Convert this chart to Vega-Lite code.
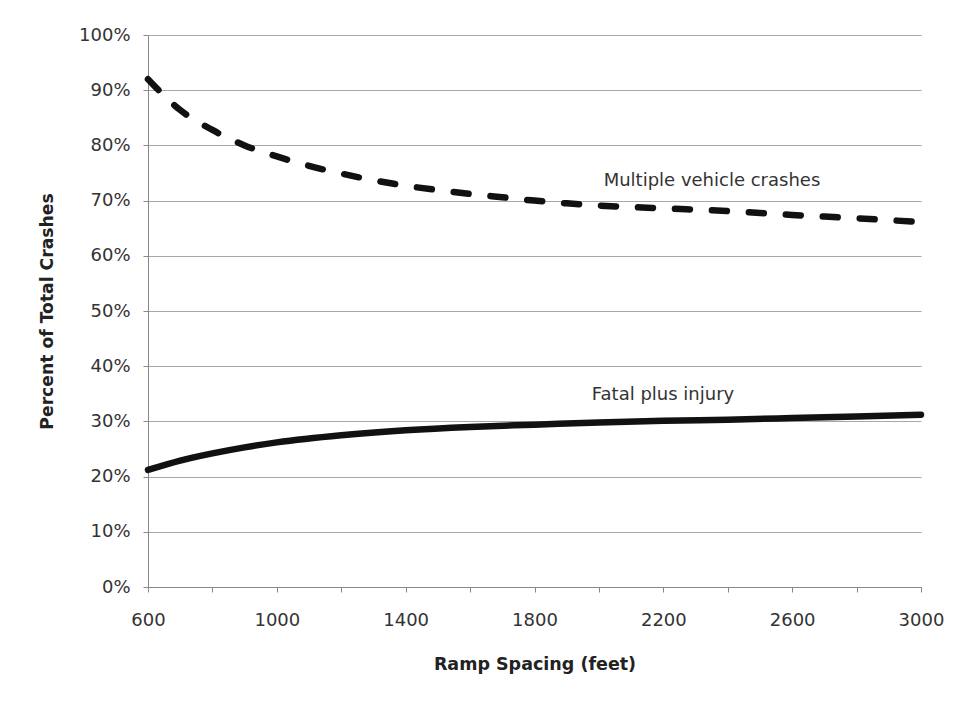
{
  "$schema": "https://vega.github.io/schema/vega-lite/v6.json",
  "width": 773,
  "height": 552,
  "autosize": {"type": "none"},
  "padding": {"left": 148, "top": 35, "right": 35, "bottom": 115},
  "background": "white",
  "config": {
    "view": {"stroke": null},
    "font": "DejaVu Sans"
  },
  "datasets": {
    "curves": [
      {"series": "Multiple vehicle crashes", "feet": 600, "pct": 92.0},
      {"series": "Multiple vehicle crashes", "feet": 700, "pct": 86.4},
      {"series": "Multiple vehicle crashes", "feet": 800, "pct": 82.8},
      {"series": "Multiple vehicle crashes", "feet": 900, "pct": 80.0},
      {"series": "Multiple vehicle crashes", "feet": 1000, "pct": 78.0},
      {"series": "Multiple vehicle crashes", "feet": 1100, "pct": 76.3},
      {"series": "Multiple vehicle crashes", "feet": 1200, "pct": 74.9},
      {"series": "Multiple vehicle crashes", "feet": 1300, "pct": 73.7},
      {"series": "Multiple vehicle crashes", "feet": 1400, "pct": 72.7},
      {"series": "Multiple vehicle crashes", "feet": 1500, "pct": 71.9},
      {"series": "Multiple vehicle crashes", "feet": 1600, "pct": 71.2},
      {"series": "Multiple vehicle crashes", "feet": 1700, "pct": 70.6},
      {"series": "Multiple vehicle crashes", "feet": 1800, "pct": 70.0},
      {"series": "Multiple vehicle crashes", "feet": 1900, "pct": 69.5},
      {"series": "Multiple vehicle crashes", "feet": 2000, "pct": 69.1},
      {"series": "Multiple vehicle crashes", "feet": 2200, "pct": 68.6},
      {"series": "Multiple vehicle crashes", "feet": 2400, "pct": 68.1},
      {"series": "Multiple vehicle crashes", "feet": 2600, "pct": 67.4},
      {"series": "Multiple vehicle crashes", "feet": 2800, "pct": 66.8},
      {"series": "Multiple vehicle crashes", "feet": 3000, "pct": 66.1},
      {"series": "Fatal plus injury", "feet": 600, "pct": 21.2},
      {"series": "Fatal plus injury", "feet": 700, "pct": 22.9},
      {"series": "Fatal plus injury", "feet": 800, "pct": 24.2},
      {"series": "Fatal plus injury", "feet": 900, "pct": 25.3},
      {"series": "Fatal plus injury", "feet": 1000, "pct": 26.2},
      {"series": "Fatal plus injury", "feet": 1200, "pct": 27.5},
      {"series": "Fatal plus injury", "feet": 1400, "pct": 28.4},
      {"series": "Fatal plus injury", "feet": 1600, "pct": 29.0},
      {"series": "Fatal plus injury", "feet": 1800, "pct": 29.4},
      {"series": "Fatal plus injury", "feet": 2000, "pct": 29.8},
      {"series": "Fatal plus injury", "feet": 2200, "pct": 30.1},
      {"series": "Fatal plus injury", "feet": 2400, "pct": 30.3},
      {"series": "Fatal plus injury", "feet": 2600, "pct": 30.6},
      {"series": "Fatal plus injury", "feet": 2800, "pct": 30.9},
      {"series": "Fatal plus injury", "feet": 3000, "pct": 31.2}
    ],
    "labels": [
      {"label": "Multiple vehicle crashes", "feet": 2351, "pct": 73.6},
      {"label": "Fatal plus injury", "feet": 2199, "pct": 34.8}
    ]
  },
  "layer": [
    {
      "data": {"name": "curves"},
      "transform": [{"filter": "datum.series == 'Multiple vehicle crashes'"}],
      "mark": {"type": "line", "color": "#111111", "strokeWidth": 6.5, "strokeDash": [15, 22], "strokeCap": "round", "interpolate": "monotone"},
      "encoding": {
        "x": {
          "field": "feet", "type": "quantitative",
          "scale": {"domain": [600, 3000], "nice": false, "zero": false},
          "axis": {
            "title": "Ramp Spacing (feet)",
            "values": [600,700,800,900,1000,1100,1200,1300,1400,1500,1600,1700,1800,1900,2000,2100,2200,2300,2400,2500,2600,2700,2800,2900,3000],
            "labelExpr": "(datum.value - 600) % 400 == 0 ? '' + datum.value : ''",
            "grid": false,
            "domainColor": "#888888",
            "tickColor": "#888888",
            "tickSize": 5,
            "labelFontSize": 18,
            "labelColor": "#333333",
            "labelPadding": 19,
            "labelFlush": false,
            "labelOverlap": false,
            "titleFontSize": 17.5,
            "titleFontWeight": "bold",
            "titleColor": "#222222",
            "titlePadding": 26
          }
        },
        "y": {
          "field": "pct", "type": "quantitative",
          "scale": {"domain": [0, 100], "nice": false},
          "axis": {
            "title": "Percent of Total Crashes",
            "values": [0,5,10,15,20,25,30,35,40,45,50,55,60,65,70,75,80,85,90,95,100],
            "labelExpr": "datum.value % 10 == 0 ? datum.value + '%' : ''",
            "grid": true,
            "gridColor": "#a8a8a8",
            "gridOpacity": {"condition": {"test": "datum.value % 10 == 0", "value": 1}, "value": 0},
            "domainColor": "#888888",
            "tickColor": "#888888",
            "tickSize": 5,
            "labelFontSize": 18,
            "labelColor": "#333333",
            "labelPadding": 13,
            "labelOverlap": false,
            "labelFlush": false,
            "titleFontSize": 17.2,
            "titleFontWeight": "bold",
            "titleColor": "#222222",
            "titlePadding": 22
          }
        }
      }
    },
    {
      "data": {"name": "curves"},
      "transform": [{"filter": "datum.series == 'Fatal plus injury'"}],
      "mark": {"type": "line", "color": "#111111", "strokeWidth": 6.5, "strokeCap": "round", "interpolate": "monotone"},
      "encoding": {
        "x": {"field": "feet", "type": "quantitative"},
        "y": {"field": "pct", "type": "quantitative"}
      }
    },
    {
      "data": {"name": "labels"},
      "mark": {"type": "text", "fontSize": 18, "color": "#333333", "align": "center", "baseline": "middle"},
      "encoding": {
        "x": {"field": "feet", "type": "quantitative"},
        "y": {"field": "pct", "type": "quantitative"},
        "text": {"field": "label"}
      }
    }
  ]
}
